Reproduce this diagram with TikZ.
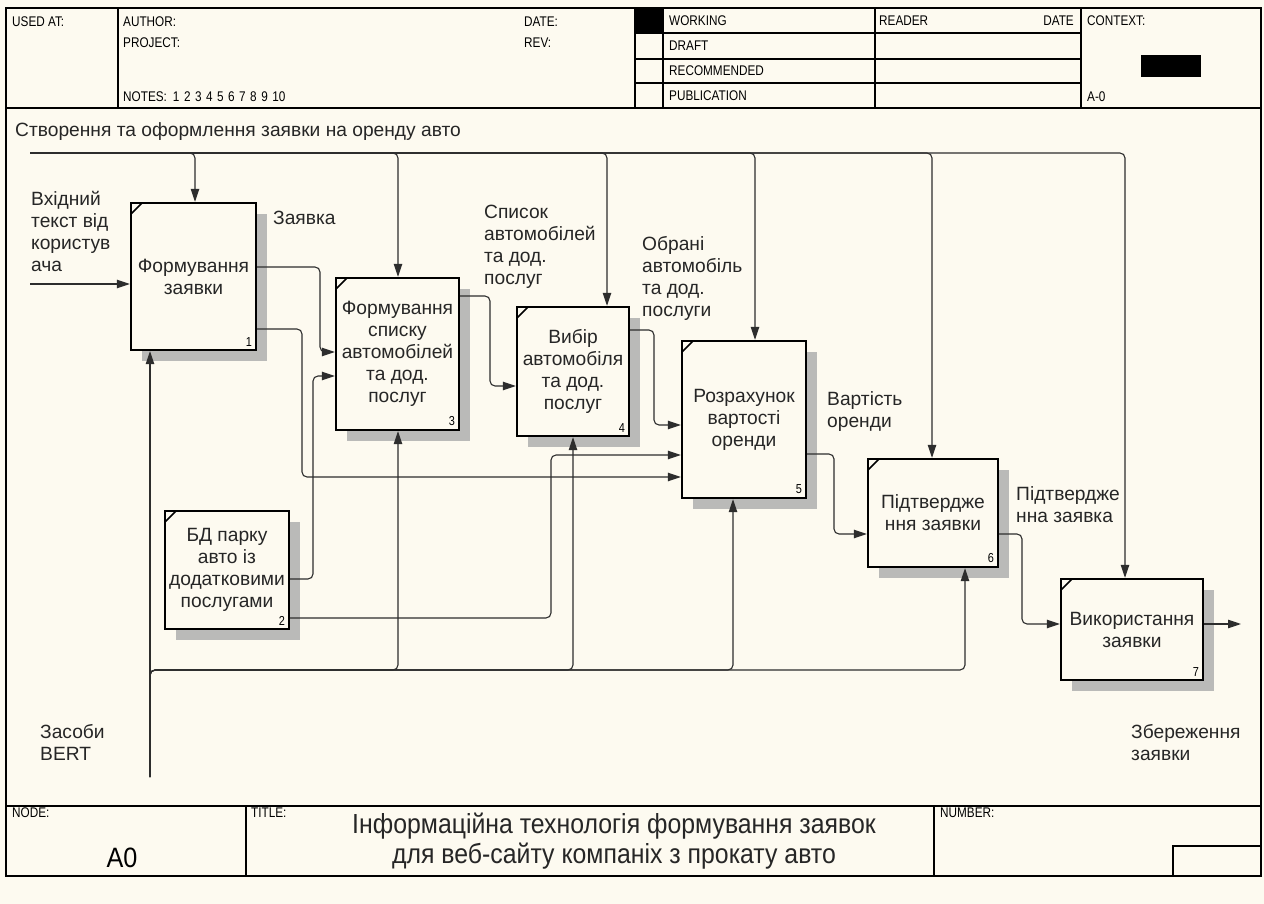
\documentclass[tikz,border=0pt]{standalone}
\usepackage{fontspec}
\setmainfont{Liberation Sans}
\newfontfamily\narrowfont[FakeStretch=0.84]{Liberation Sans}
\newfontfamily\titlefont[FakeStretch=0.9]{Liberation Sans}
\usetikzlibrary{arrows.meta}
\usetikzlibrary{shadows}
\definecolor{paper}{RGB}{253,250,240}
\definecolor{wire}{RGB}{45,45,45}
\definecolor{hatch}{RGB}{186,186,184}

\begin{document}
\begin{tikzpicture}[x=1pt, y=-1pt,
    func/.style={draw, line width=2.4pt, fill=paper, inner sep=0pt, align=center, text=black!85,
        font=\fontsize{19.2}{22}\selectfont,
        general shadow={fill=hatch, shadow xshift=11pt, shadow yshift=-11pt},
        path picture={\draw[line width=1.6pt] ([yshift=-11pt]path picture bounding box.north west) -- ([xshift=11pt]path picture bounding box.north west);}},
    num/.style={font=\narrowfont\fontsize{13}{13}\selectfont, inner sep=0pt, anchor=south east},
    lab/.style={font=\fontsize{19.2}{22}\selectfont, align=left, inner sep=0pt, anchor=north west, text=black!85},
    hdr/.style={font=\narrowfont\fontsize{14}{14}\selectfont, inner sep=0pt, anchor=west},
    rule/.style={line width=1.2pt},
    wire/.style={draw=wire, line width=1.1pt, rounded corners=5pt},
    arr/.style={wire, -{Triangle[length=13pt, width=8.5pt]}}
]
    \fill[paper] (0,0) rectangle (1264,904);

    \draw[line width=1.6pt] (6,8) rectangle (1261,876);
    \draw[rule] (6,108) -- (1261,108);
    \draw[rule] (118,8) -- (118,108);
    \foreach \x in {635,663,875,1081}
        \draw[rule] (\x,8) -- (\x,108);
    \foreach \y in {33,59,83}
        \draw[rule] (635,\y) -- (1081,\y);
    \fill (635,8) rectangle (663,33);
    \fill (1141,55) rectangle (1201,77);

    \node[hdr] (usedat) at (12,22) {USED AT:};
    \node[hdr] (author) at (123,22) {AUTHOR:};
    \node[hdr] (project) at (123,43) {PROJECT:};
    \node[hdr] (notes) at (123,97) {NOTES:\hspace{6pt}1\hspace{4.5pt}2\hspace{4.5pt}3\hspace{4.5pt}4\hspace{4.5pt}5\hspace{4.5pt}6\hspace{4.5pt}7\hspace{4.5pt}8\hspace{4.5pt}9\hspace{4.5pt}10};
    \node[hdr] (date) at (524,22) {DATE:};
    \node[hdr] (rev) at (524,43) {REV:};
    \node[hdr] (working) at (669,21) {WORKING};
    \node[hdr] (draft) at (669,46) {DRAFT};
    \node[hdr] (recom) at (669,71) {RECOMMENDED};
    \node[hdr] (public) at (669,96) {PUBLICATION};
    \node[hdr] (reader) at (879,21) {READER};
    \node[hdr, anchor=east] (rdate) at (1074,21) {DATE};
    \node[hdr] (context) at (1087,21) {CONTEXT:};
    \node[hdr] (azero) at (1087,97) {A-0};

    \draw[rule] (6,806) -- (1261,806);
    \draw[rule] (246,806) -- (246,876);
    \draw[rule] (934,806) -- (934,876);
    \draw[rule] (1173,846) rectangle (1261,876);
    \node[hdr] (nodelbl) at (12,813) {NODE:};
    \node[hdr] (titlelbl) at (251,813) {TITLE:};
    \node[hdr] (numberlbl) at (940,813) {NUMBER:};
    \node[font=\titlefont\fontsize{28}{28}\selectfont, inner sep=0pt] (nodeval) at (122,858) {A0};
    \node[font=\titlefont\fontsize{27.6}{30}\selectfont, align=center, inner sep=0pt, text=black!85] (title) at (614,841) {Інформаційна технологія формування заявок\\для веб-сайту компаніх з прокату авто};

    \node[lab] (purpose) at (15,122) {Створення та оформлення заявки на оренду авто};

    \node[func, minimum width=125, minimum height=147] (b1) at (193.5,276.5) {Формування\\заявки};
    \node[func, minimum width=124, minimum height=118] (b2) at (227,570) {БД парку\\авто із\\додатковими\\послугами};
    \node[func, minimum width=123, minimum height=152] (b3) at (397.5,354) {Формування\\списку\\автомобілей\\та дод.\\послуг};
    \node[func, minimum width=112, minimum height=129] (b4) at (573,371.5) {Вибір\\автомобіля\\та дод.\\послуг};
    \node[func, minimum width=124, minimum height=157] (b5) at (744,419.5) {Розрахунок\\вартості\\оренди};
    \node[func, minimum width=130, minimum height=108] (b6) at (933,513) {Підтвердже\\ння заявки};
    \node[func, minimum width=142, minimum height=101] (b7) at (1132,629.5) {Використання\\заявки};

    \node[num] (n1) at ([xshift=-5pt, yshift=5pt]b1.south east) {1};
    \node[num] (n2) at ([xshift=-5pt, yshift=5pt]b2.south east) {2};
    \node[num] (n3) at ([xshift=-5pt, yshift=5pt]b3.south east) {3};
    \node[num] (n4) at ([xshift=-5pt, yshift=5pt]b4.south east) {4};
    \node[num] (n5) at ([xshift=-5pt, yshift=5pt]b5.south east) {5};
    \node[num] (n6) at ([xshift=-5pt, yshift=5pt]b6.south east) {6};
    \node[num] (n7) at ([xshift=-5pt, yshift=5pt]b7.south east) {7};

    \coordinate (ctl) at (30,153);
    \coordinate (inp) at (30,284);
    \coordinate (mech) at (150,777);
    \coordinate (res) at (1241,624);

    \foreach \n/\x in {b1/195, b3/398, b4/607, b5/755, b6/932, b7/1125}
        \draw[arr] (ctl) -| (\x,0 |- \n.north);

    \draw[arr] (inp) -- (b1.west |- inp);
    \draw[arr] (b1.east |- 0,267) -| (320,352) -- (b3.west |- 0,352);
    \draw[arr] (b1.east |- 0,329) -| (302,477) -- (b5.west |- 0,477);
    \draw[arr] (b2.east |- 0,579) -| (313,376) -- (b3.west |- 0,376);
    \draw[arr] (b2.east |- 0,618) -| (551,455) -- (b5.west |- 0,455);
    \draw[arr] (b3.east |- 0,296) -| (490,386) -- (b4.west |- 0,386);
    \draw[arr] (b4.east |- 0,330) -| (654,425) -- (b5.west |- 0,425);
    \draw[arr] (b5.east |- 0,454) -| (834,534) -- (b6.west |- 0,534);
    \draw[arr] (b6.east |- 0,534) -| (1022,624) -- (b7.west |- 0,624);
    \draw[arr] (b7.east |- 0,624) -- (res);

    \draw[arr] (mech) -- (150,0 |- b1.south);
    \foreach \n/\x in {b3/398, b4/573, b5/733, b6/965}
        \draw[arr] (mech) |- (\x,670) -- (\x,0 |- \n.south);

    \node[lab] (l1) at (31,191) {Вхідний\\текст від\\користув\\ача};
    \node[lab] (l2) at (273,211) {Заявка};
    \node[lab] (l3) at (484,205) {Список\\автомобілей\\та дод.\\послуг};
    \node[lab] (l4) at (642,236) {Обрані\\автомобіль\\та дод.\\послуги};
    \node[lab] (l5) at (827,391) {Вартість\\оренди};
    \node[lab] (l6) at (1016,486) {Підтвердже\\нна заявка};
    \node[lab] (l7) at (1131,724) {Збереження\\заявки};
    \node[lab] (l8) at (40,724) {Засоби\\BERT};
\end{tikzpicture}
\end{document}
